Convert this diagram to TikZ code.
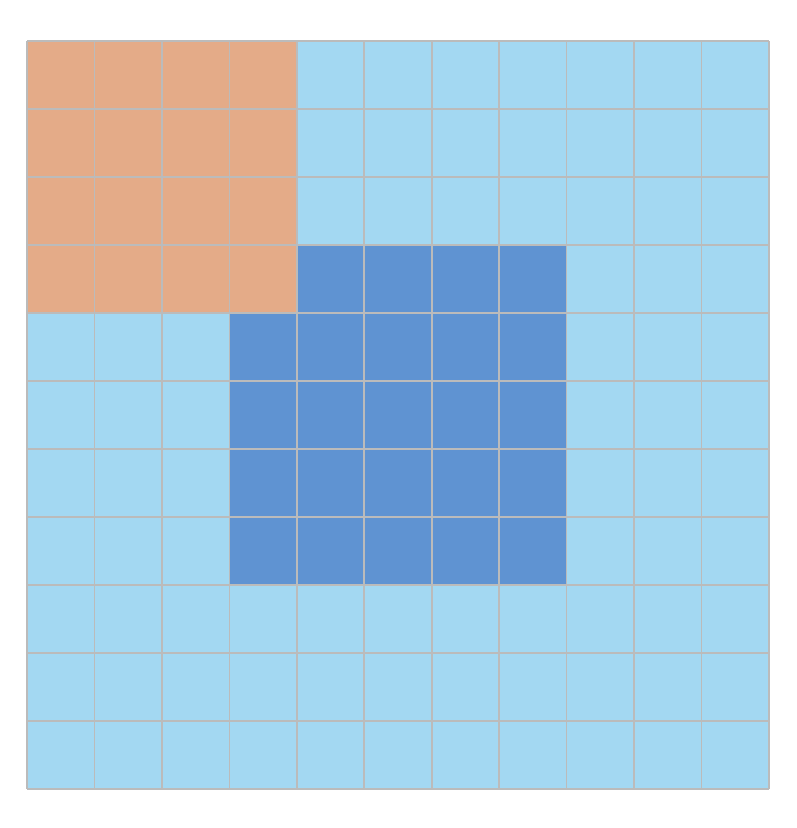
\documentclass[tikz,border=0pt]{standalone}
\definecolor{orangecell}{HTML}{E4AB88}
\definecolor{lightcell}{HTML}{A3D8F2}
\definecolor{darkcell}{HTML}{5F93D2}
\definecolor{gridgray}{HTML}{BBBBBB}
\begin{document}
\begin{tikzpicture}[x=1pt,y=-1pt,
  gridline/.style={draw=gridgray,line width=1.6pt}]
\useasboundingbox (0,0) rectangle (796,828);
\def\cw{67.4545}
\def\ch{68}
% light background
\fill[lightcell] (27,41) rectangle (769,789);
% orange block: columns 0-3, rows 0-3
\fill[orangecell] (27,41) rectangle ({27+4*\cw},{41+4*\ch});
% dark block: row 3 columns 4-7
\fill[darkcell] ({27+4*\cw},{41+3*\ch}) rectangle ({27+8*\cw},{41+4*\ch});
% dark block: rows 4-7 columns 3-7
\fill[darkcell] ({27+3*\cw},{41+4*\ch}) rectangle ({27+8*\cw},{41+8*\ch});
\foreach \i in {0,...,11}{
  \draw[gridline] ({27+\i*\cw},41) -- ({27+\i*\cw},789);
  \draw[gridline] (27,{41+\i*\ch}) -- (769,{41+\i*\ch});
}
\end{tikzpicture}
\end{document}
